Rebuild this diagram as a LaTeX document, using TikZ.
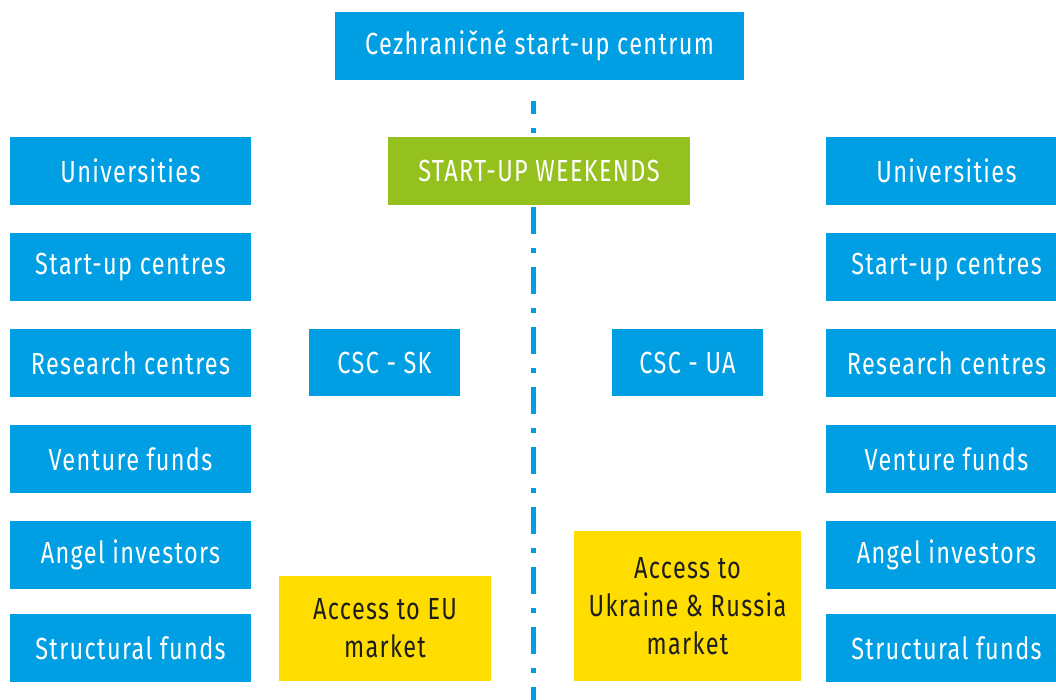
\documentclass[tikz,border=0pt]{standalone}
\usepackage{fontspec}
\setmainfont{Fira Sans}[FakeStretch=0.77, LetterSpace=4.4]
\definecolor{cblue}{RGB}{0,159,227}
\definecolor{cgreen}{RGB}{149,193,31}
\definecolor{cyellow}{RGB}{255,221,0}
\definecolor{ctext}{RGB}{30,30,30}
\begin{document}
\begin{tikzpicture}[x=1pt,y=-1pt,
  box/.style={fill=cblue, text=white, inner sep=0pt, align=center, font=\fontsize{30.5}{38}\selectfont},
  side/.style={box, minimum width=241pt, minimum height=68pt},
  csc/.style={box, minimum width=151pt, minimum height=67pt},
  market/.style={box, fill=cyellow, text=ctext},
  divider/.style={draw=cblue, line width=5pt, dash pattern=on 27pt off 14pt on 5pt off 14pt, dash phase=14pt}]
\useasboundingbox (0,0) rectangle (1056,700);
\coordinate (dtop) at (533,101);
\coordinate (dbot) at (533,700);
\draw[divider] (dtop) -- (dbot);
\node[box, minimum width=409pt, minimum height=68pt] (top) at (539.5,46) {Cezhraničné start-up centrum};
\node[box, fill=cgreen, minimum width=302pt, minimum height=68pt] (sw) at (539,171) {START-UP WEEKENDS};
% left column
\node[side] (l1) at (130.5,171) {Universities};
\node[side] (l2) at (130.5,267) {Start-up centres};
\node[side] (l3) at (130.5,363) {Research centres};
\node[side] (l4) at (130.5,459) {Venture funds};
\node[side] (l5) at (130.5,555) {Angel investors};
\node[side] (l6) at (130.5,648) {Structural funds};
% right column
\node[side] (r1) at (946.5,171) {Universities};
\node[side] (r2) at (946.5,267) {Start-up centres};
\node[side] (r3) at (946.5,363) {Research centres};
\node[side] (r4) at (946.5,459) {Venture funds};
\node[side] (r5) at (946.5,555) {Angel investors};
\node[side] (r6) at (946.5,648) {Structural funds};
% CSC
\node[csc] (sk) at (384.5,362.5) {CSC - SK};
\node[csc] (ua) at (687.5,362.5) {CSC - UA};
% markets
\node[market, minimum width=212pt, minimum height=105pt] (eu) at (385,628.5) {Access to EU\\market};
\node[market, minimum width=227pt, minimum height=150pt] (ur) at (687.5,606) {Access to\\Ukraine \& Russia\\market};
\end{tikzpicture}
\end{document}
